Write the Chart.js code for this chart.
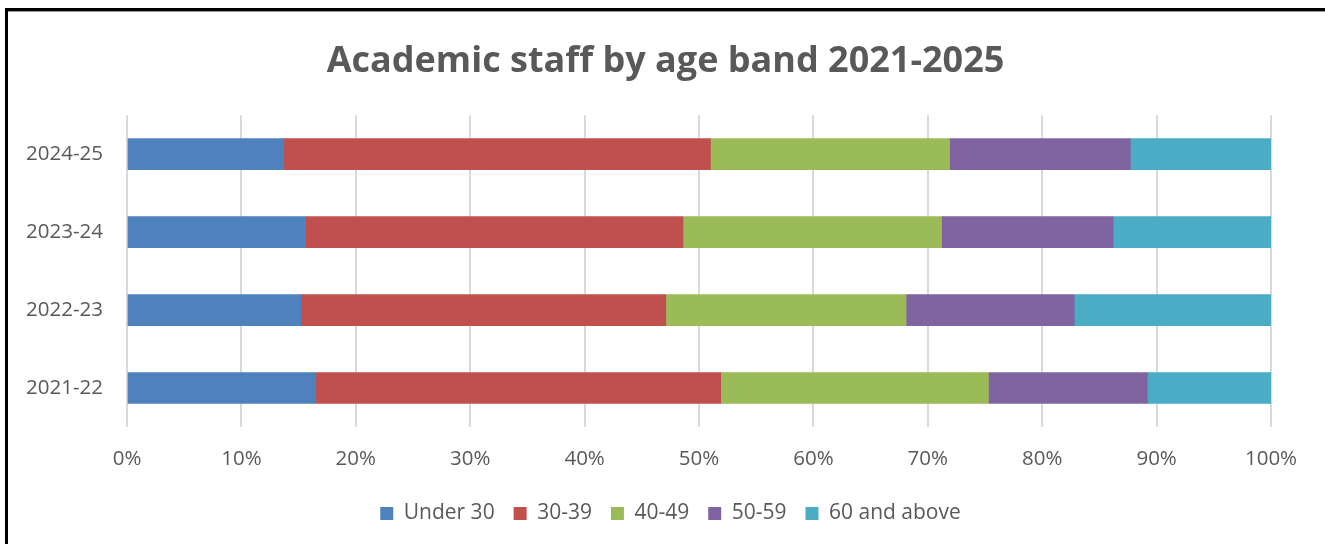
<!DOCTYPE html>
<html>
<head>
<meta charset="utf-8">
<script src="https://cdn.jsdelivr.net/npm/chart.js@4"></script>
<style>
  html, body { margin: 0; padding: 0; background: #fff; }
  #wrap { position: relative; width: 1325px; height: 544px; overflow: hidden; }
  #frame {
    position: absolute; left: 5px; top: 8px; width: 1400px; height: 600px;
    border-top: 3px solid #000; border-left: 3px solid #000;
    box-shadow: inset 0 1px 0 #9a9a9a;
    pointer-events: none;
  }
  canvas { position: absolute; left: 0; top: 0; }
</style>
</head>
<body>
<div id="wrap">
  <canvas id="c" width="1325" height="544"></canvas>
  <div id="frame"></div>
</div>
<script>
// Academic years, oldest first (drawn bottom-up)
const years = ['2021-22', '2022-23', '2023-24', '2024-25'];

// Share of academic staff in each age band, percent
const under30 = [16.5, 15.2, 15.6, 13.7];
const age30to39 = [35.4, 31.9, 33.0, 37.3];
const age40to49 = [23.4, 21.0, 22.6, 20.9];
const age50to59 = [13.9, 14.7, 15.0, 15.8];
const age60plus = [10.8, 17.2, 13.8, 12.3];

const bandNames = ['Under 30', '30-39', '40-49', '50-59', '60 and above'];
const bandColors = ['#4F81BD', '#C0504D', '#9BBB59', '#8064A2', '#4BACC6'];

const xTicks = [0, 10, 20, 30, 40, 50, 60, 70, 80, 90, 100];

const textColor = '#595959';
const font = "'Open Sans', 'Noto Sans', sans-serif";

const series = [under30, age30to39, age40to49, age50to59, age60plus];

// Centre the title and legend on the whole canvas rather than the padded box
const centreBlocks = {
  id: 'centreBlocks',
  afterLayout(chart) {
    chart.titleBlock.left = 6;
    chart.titleBlock.right = chart.width;
    chart.legend.left = 8;
    chart.legend.right = chart.width + 8;
  }
};

new Chart(document.getElementById('c'), {
  type: 'bar',
  data: {
    labels: years,
    datasets: series.map((vals, i) => ({
      label: bandNames[i],
      data: vals,
      backgroundColor: bandColors[i],
      borderWidth: 0,
      barThickness: 31
    }))
  },
  plugins: [centreBlocks],
  options: {
    indexAxis: 'y',
    responsive: false,
    animation: false,
    layout: { padding: { left: 0, right: 54, top: 0, bottom: 10 } },
    plugins: {
      title: {
        display: true,
        text: 'Academic staff by age band 2021-2025',
        color: textColor,
        font: { family: font, size: 36, weight: 'bold', lineHeight: 1.2 },
        padding: { top: 40, bottom: 32 }
      },
      legend: {
        position: 'bottom',
        labels: {
          color: textColor,
          font: { family: font, size: 21 },
          boxWidth: 13,
          boxHeight: 13,
          padding: 19
        }
      },
      tooltip: { enabled: false }
    },
    scales: {
      x: {
        stacked: true,
        min: 0,
        max: 100,
        afterBuildTicks: (s) => { s.ticks = xTicks.map(v => ({ value: v })); },
        afterFit: (s) => { s.height = 57; },
        ticks: {
          color: textColor,
          font: { family: font, size: 20.5 },
          padding: 20,
          callback: (v) => v + '%'
        },
        grid: { color: '#D9D9D9', lineWidth: 2, drawTicks: false },
        border: { display: false }
      },
      y: {
        stacked: true,
        reverse: true,
        afterFit: (s) => { s.width = 127; },
        ticks: {
          color: textColor,
          font: { family: font, size: 20.5 },
          padding: 24
        },
        grid: { display: false, drawTicks: false },
        border: { display: false }
      }
    }
  }
});
</script>
</body>
</html>
